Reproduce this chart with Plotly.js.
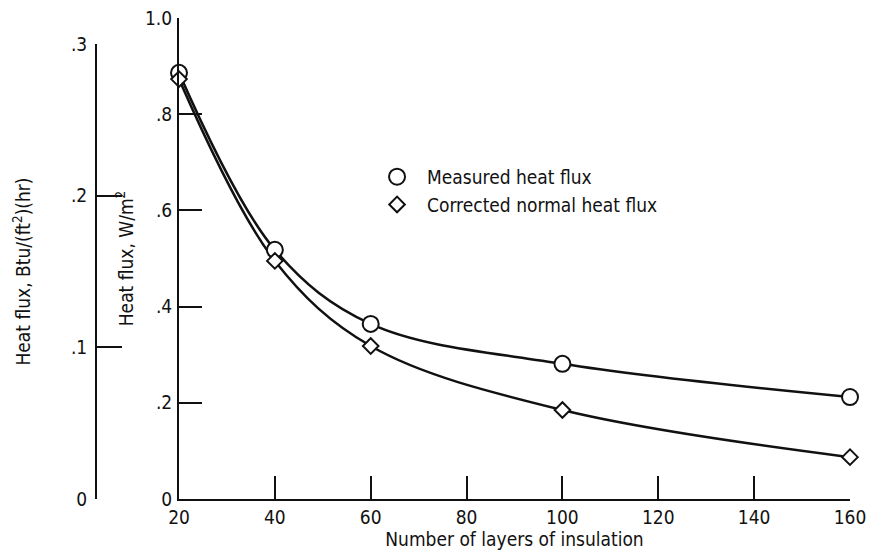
<!DOCTYPE html>
<html>
<head>
<meta charset="utf-8">
<script src="https://cdn.plot.ly/plotly-3.0.1.min.js"></script>
<style>html,body{margin:0;padding:0;background:#fff;}#chart{width:871px;height:552px;}</style>
</head>
<body>
<div id="chart"></div>
<script>
const layers = [20, 40, 60, 100, 160];
const measured = [0.886, 0.518, 0.364, 0.281, 0.212];
const corrected = [0.873, 0.495, 0.318, 0.185, 0.087];
const seriesNames = ["Measured heat flux", "Corrected normal heat flux"];
const xTicks = [20, 40, 60, 80, 100, 120, 140, 160];
const yTicks = [0, 0.2, 0.4, 0.6, 0.8, 1.0];
const yTickText = ["0", ".2", ".4", ".6", ".8", "1.0"];
const y2Ticks = [0, 0.1, 0.2, 0.3];
const y2TickText = ["0", ".1", ".2", ".3"];

const FONT = "DejaVu Sans Condensed, Liberation Sans Narrow, Roboto, sans-serif";

const traces = [
  {x: layers, y: measured, mode: "lines", line: {color: "#111", width: 2.5, shape: "spline", smoothing: 1}, showlegend: false, hoverinfo: "skip", cliponaxis: false},
  {x: layers, y: corrected, mode: "lines", line: {color: "#111", width: 2.5, shape: "spline", smoothing: 1}, showlegend: false, hoverinfo: "skip", cliponaxis: false},
  {x: layers, y: measured, mode: "markers", name: seriesNames[0], marker: {symbol: "circle", size: 16, color: "#fff", line: {color: "#111", width: 2}}, cliponaxis: false},
  {x: layers, y: corrected, mode: "markers", name: seriesNames[1], marker: {symbol: "diamond", size: 12, color: "#fff", line: {color: "#111", width: 2}}, cliponaxis: false},
  {x: [null], y: [null], yaxis: "y2", mode: "markers", showlegend: false, hoverinfo: "skip"}
];

const layout = {
  width: 871, height: 552,
  margin: {l: 0, r: 0, t: 0, b: 0},
  paper_bgcolor: "#fff", plot_bgcolor: "rgba(0,0,0,0)",
  font: {family: FONT, size: 19, color: "#111"},
  showlegend: true,
  legend: {x: 0.4214, y: 0.714, xanchor: "left", yanchor: "top", font: {family: FONT, size: 19, color: "#111"}, bgcolor: "rgba(0,0,0,0)", itemwidth: 50, tracegroupgap: 0},
  xaxis: {
    domain: [179/871, 850/871], range: [20, 160], anchor: "y",
    tickvals: xTicks, ticks: "inside", ticklen: 23, tickwidth: 2, tickcolor: "#111",
    showline: true, linecolor: "#111", linewidth: 2, showgrid: false, zeroline: false,
    tickfont: {family: FONT, size: 19}, ticklabelstandoff: 0,
    title: {text: "Number of layers of insulation", font: {family: FONT, size: 19}, standoff: 2}
  },
  yaxis: {
    domain: [53/552, 534/552], range: [0, 1.0], anchor: "x",
    tickvals: yTicks, ticktext: yTickText, ticks: "inside", ticklen: 23, tickwidth: 2, tickcolor: "#111",
    showline: true, linecolor: "#111", linewidth: 2, showgrid: false, zeroline: false,
    tickfont: {family: FONT, size: 19}, ticklabelstandoff: 1,
    title: {text: "Heat flux, W/m<sup>2</sup>", font: {family: FONT, size: 19}, standoff: 6}
  },
  yaxis2: {
    domain: [53/552, 508/552], range: [0, 0.3], anchor: "free", position: 96/871, side: "left",
    tickvals: y2Ticks, ticktext: y2TickText, ticks: "inside", ticklen: 25, tickwidth: 2, tickcolor: "#111",
    showline: true, linecolor: "#111", linewidth: 2, showgrid: false, zeroline: false,
    tickfont: {family: FONT, size: 19}, ticklabelstandoff: 4,
    title: {text: "Heat flux, Btu/(ft<sup>2</sup>)(hr)", font: {family: FONT, size: 19}, standoff: 34}
  }
};

Plotly.newPlot("chart", traces, layout, {staticPlot: true, displayModeBar: false});
</script>
</body>
</html>
